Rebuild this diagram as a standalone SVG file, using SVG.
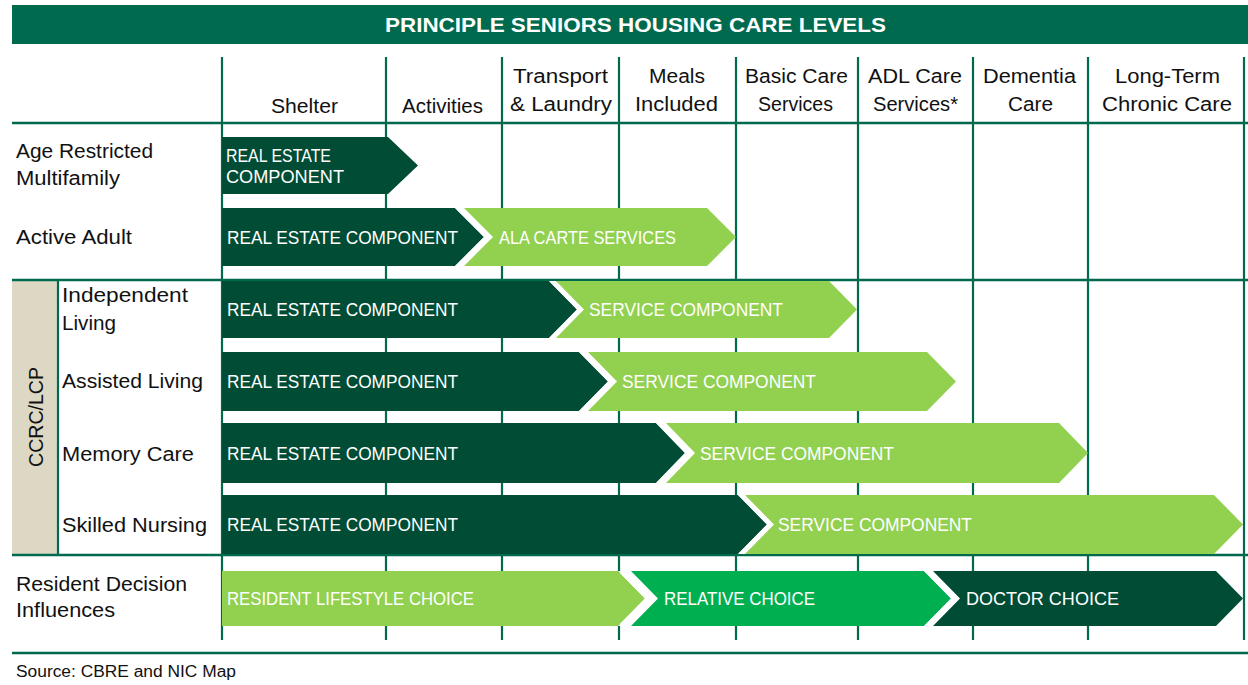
<svg xmlns="http://www.w3.org/2000/svg" width="1248" height="685" viewBox="0 0 1248 685">
  <defs>
    <style>
      .grid { stroke: #006a4e; stroke-width: 2.2; fill: none; }
      .rule { stroke: #006a4e; stroke-width: 2.6; fill: none; }
      .dark { fill: #004c35; }
      .light { fill: #92d050; }
      .mid { fill: #00b050; }
      .gap { fill: #ffffff; }
      .lbl { font-family: "Liberation Sans", Arial, sans-serif; font-size: 20px; fill: #111111; }
      .hdr { font-family: "Liberation Sans", Arial, sans-serif; font-size: 20px; fill: #111111; text-anchor: middle; }
      .atx { font-family: "Liberation Sans", Arial, sans-serif; font-size: 18px; fill: #ffffff; }
      .title { font-family: "Liberation Sans", Arial, sans-serif; font-size: 20px; font-weight: bold; fill: #ffffff; text-anchor: middle; }
    </style>
  </defs>
  <rect width="1248" height="685" fill="#ffffff"/>

  <!-- title bar -->
  <g id="title">
    <rect x="12" y="5" width="1236" height="39" fill="#006a4e"/>
    <text class="title" x="635.5" y="32" textLength="501" lengthAdjust="spacingAndGlyphs">PRINCIPLE SENIORS HOUSING CARE LEVELS</text>
  </g>

  <!-- table rules -->
  <g id="grid">
    <rect x="12" y="281" width="45" height="274" fill="#ddd8c4"/>
    <line class="grid" x1="58" y1="280" x2="58" y2="555"/>
    <line class="grid" x1="222" y1="57" x2="222" y2="640"/>
    <line class="grid" x1="386" y1="57" x2="386" y2="640"/>
    <line class="grid" x1="502" y1="57" x2="502" y2="640"/>
    <line class="grid" x1="619" y1="57" x2="619" y2="640"/>
    <line class="grid" x1="736" y1="57" x2="736" y2="640"/>
    <line class="grid" x1="858" y1="57" x2="858" y2="640"/>
    <line class="grid" x1="973" y1="57" x2="973" y2="640"/>
    <line class="grid" x1="1088" y1="57" x2="1088" y2="640"/>
    <line class="grid" x1="1244" y1="57" x2="1244" y2="640"/>
    <line class="rule" x1="12" y1="123" x2="1248" y2="123"/>
    <line class="rule" x1="12" y1="280" x2="1248" y2="280"/>
    <line class="rule" x1="12" y1="555" x2="1248" y2="555"/>
    <line class="rule" x1="12" y1="653" x2="1248" y2="653"/>
  </g>

  <!-- column headings -->
  <g id="headings">
    <text class="hdr" x="304.5" y="113" textLength="67" lengthAdjust="spacingAndGlyphs">Shelter</text>
    <text class="hdr" x="442.5" y="113" textLength="81" lengthAdjust="spacingAndGlyphs">Activities</text>
    <text class="hdr" x="560.5" y="83" textLength="95" lengthAdjust="spacingAndGlyphs">Transport</text>
    <text class="hdr" x="561" y="111" textLength="102" lengthAdjust="spacingAndGlyphs">&amp; Laundry</text>
    <text class="hdr" x="677" y="83" textLength="56" lengthAdjust="spacingAndGlyphs">Meals</text>
    <text class="hdr" x="676.5" y="111" textLength="83" lengthAdjust="spacingAndGlyphs">Included</text>
    <text class="hdr" x="796.5" y="83" textLength="103" lengthAdjust="spacingAndGlyphs">Basic Care</text>
    <text class="hdr" x="795.5" y="111" textLength="75" lengthAdjust="spacingAndGlyphs">Services</text>
    <text class="hdr" x="915" y="83" textLength="94" lengthAdjust="spacingAndGlyphs">ADL Care</text>
    <text class="hdr" x="915.5" y="111" textLength="85" lengthAdjust="spacingAndGlyphs">Services*</text>
    <text class="hdr" x="1029.5" y="83" textLength="93" lengthAdjust="spacingAndGlyphs">Dementia</text>
    <text class="hdr" x="1030.5" y="111" textLength="45" lengthAdjust="spacingAndGlyphs">Care</text>
    <text class="hdr" x="1167.5" y="83" textLength="105" lengthAdjust="spacingAndGlyphs">Long-Term</text>
    <text class="hdr" x="1167" y="111" textLength="130" lengthAdjust="spacingAndGlyphs">Chronic Care</text>
  </g>

  <!-- row labels -->
  <g id="rowlabels">
    <text class="lbl" x="16" y="158" textLength="137" lengthAdjust="spacingAndGlyphs">Age Restricted</text>
    <text class="lbl" x="16" y="185" textLength="104" lengthAdjust="spacingAndGlyphs">Multifamily</text>
    <text class="lbl" x="16" y="244" textLength="116" lengthAdjust="spacingAndGlyphs">Active Adult</text>
    <text class="lbl" x="62" y="302" textLength="126" lengthAdjust="spacingAndGlyphs">Independent</text>
    <text class="lbl" x="62" y="330" textLength="54" lengthAdjust="spacingAndGlyphs">Living</text>
    <text class="lbl" x="62" y="388" textLength="141" lengthAdjust="spacingAndGlyphs">Assisted Living</text>
    <text class="lbl" x="62" y="461" textLength="132" lengthAdjust="spacingAndGlyphs">Memory Care</text>
    <text class="lbl" x="62" y="532" textLength="145" lengthAdjust="spacingAndGlyphs">Skilled Nursing</text>
    <text class="lbl" x="16" y="591" textLength="171" lengthAdjust="spacingAndGlyphs">Resident Decision</text>
    <text class="lbl" x="16" y="617" textLength="99" lengthAdjust="spacingAndGlyphs">Influences</text>
    <text class="lbl" transform="translate(43,417) rotate(-90)" text-anchor="middle" textLength="100" lengthAdjust="spacingAndGlyphs">CCRC/LCP</text>
  </g>

  <!-- chevron bars -->
  <g id="age-restricted">
    <polygon class="dark" points="222,137 388,137 418,165.5 388,194 222,194"/>
    <text class="atx" x="226" y="162" textLength="105" lengthAdjust="spacingAndGlyphs">REAL ESTATE</text>
    <text class="atx" x="226" y="183" textLength="118" lengthAdjust="spacingAndGlyphs">COMPONENT</text>
  </g>

  <g id="active-adult">
    <polygon class="dark" points="222,208 455,208 484,237 455,266 222,266"/>
    <polygon class="gap" points="455,208 464,208 493,237 464,266 455,266 484,237"/>
    <polygon class="light" points="464,208 707,208 736,237 707,266 464,266 493,237"/>
    <text class="atx" x="227" y="244" textLength="231" lengthAdjust="spacingAndGlyphs">REAL ESTATE COMPONENT</text>
    <text class="atx" x="499" y="244" textLength="177" lengthAdjust="spacingAndGlyphs">ALA CARTE SERVICES</text>
  </g>

  <g id="independent-living">
    <polygon class="dark" points="222,281 549,281 577,309.5 549,338 222,338"/>
    <polygon class="gap" points="549,281 556,281 584,309.5 556,338 549,338 577,309.5"/>
    <polygon class="light" points="556,281 829,281 857,309.5 829,338 556,338 584,309.5"/>
    <text class="atx" x="227" y="316" textLength="231" lengthAdjust="spacingAndGlyphs">REAL ESTATE COMPONENT</text>
    <text class="atx" x="589" y="316" textLength="194" lengthAdjust="spacingAndGlyphs">SERVICE COMPONENT</text>
  </g>

  <g id="assisted-living">
    <polygon class="dark" points="222,352 579,352 608,381.5 579,411 222,411"/>
    <polygon class="gap" points="579,352 588,352 617,381.5 588,411 579,411 608,381.5"/>
    <polygon class="light" points="588,352 927,352 956,381.5 927,411 588,411 617,381.5"/>
    <text class="atx" x="227" y="388" textLength="231" lengthAdjust="spacingAndGlyphs">REAL ESTATE COMPONENT</text>
    <text class="atx" x="622" y="388" textLength="194" lengthAdjust="spacingAndGlyphs">SERVICE COMPONENT</text>
  </g>

  <g id="memory-care">
    <polygon class="dark" points="222,423 656,423 685,453 656,483 222,483"/>
    <polygon class="gap" points="656,423 666,423 695,453 666,483 656,483 685,453"/>
    <polygon class="light" points="666,423 1059,423 1088,453 1059,483 666,483 695,453"/>
    <text class="atx" x="227" y="460" textLength="231" lengthAdjust="spacingAndGlyphs">REAL ESTATE COMPONENT</text>
    <text class="atx" x="700" y="460" textLength="194" lengthAdjust="spacingAndGlyphs">SERVICE COMPONENT</text>
  </g>

  <g id="skilled-nursing">
    <polygon class="dark" points="222,495 738,495 767,524.5 738,554 222,554"/>
    <polygon class="gap" points="738,495 745,495 774,524.5 745,554 738,554 767,524.5"/>
    <polygon class="light" points="745,495 1214,495 1243,524.5 1214,554 745,554 774,524.5"/>
    <text class="atx" x="227" y="531" textLength="231" lengthAdjust="spacingAndGlyphs">REAL ESTATE COMPONENT</text>
    <text class="atx" x="778" y="531" textLength="194" lengthAdjust="spacingAndGlyphs">SERVICE COMPONENT</text>
  </g>

  <g id="decision-influences">
    <polygon class="light" points="222,571 618,571 645,598.5 618,626 222,626"/>
    <polygon class="gap" points="618,571 631,571 658,598.5 631,626 618,626 645,598.5"/>
    <polygon class="mid" points="631,571 924,571 951,598.5 924,626 631,626 658,598.5"/>
    <polygon class="gap" points="924,571 933,571 960,598.5 933,626 924,626 951,598.5"/>
    <polygon class="dark" points="933,571 1216,571 1243,598.5 1216,626 933,626 960,598.5"/>
    <text class="atx" x="227" y="605" textLength="247" lengthAdjust="spacingAndGlyphs">RESIDENT LIFESTYLE CHOICE</text>
    <text class="atx" x="664" y="605" textLength="151" lengthAdjust="spacingAndGlyphs">RELATIVE CHOICE</text>
    <text class="atx" x="966" y="605" textLength="153" lengthAdjust="spacingAndGlyphs">DOCTOR CHOICE</text>
  </g>

  <g id="source">
    <text class="lbl" x="16" y="677" style="font-size:16px" textLength="220" lengthAdjust="spacingAndGlyphs">Source: CBRE and NIC Map</text>
  </g>
</svg>
